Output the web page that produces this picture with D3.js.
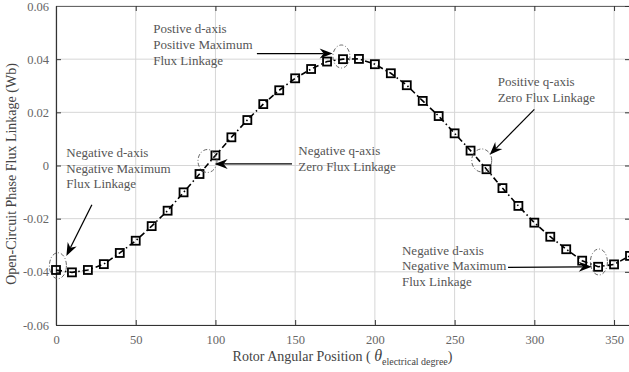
<!DOCTYPE html>
<html>
<head>
<meta charset="utf-8">
<script src="https://cdn.jsdelivr.net/npm/d3@7"></script>
<style>
  html, body { margin: 0; padding: 0; background: #fff; }
  svg { display: block; }
  text { font-family: "Liberation Serif", "Times New Roman", serif; }
</style>
</head>
<body>
<svg id="chart" width="629" height="372"></svg>
<script>
// Rotor angle (electrical degrees) and open-circuit phase flux linkage (Wb)
const angles = [0, 10, 20, 30, 40, 50, 60, 70, 80, 90, 100, 110, 120, 130, 140, 150, 160, 170, 180,
                190, 200, 210, 220, 230, 240, 250, 260, 270, 280, 290, 300, 310, 320, 330, 340, 350, 360];
const flux = [-0.0393, -0.0402, -0.0393, -0.0371, -0.0329, -0.0283, -0.0228, -0.0170, -0.0101, -0.0032,
              0.0038, 0.0106, 0.0171, 0.0231, 0.0283, 0.0328, 0.0363, 0.0391, 0.0400,
              0.0401, 0.0381, 0.0347, 0.0302, 0.0243, 0.0186, 0.0121, 0.0056, -0.0014, -0.0085,
              -0.0152, -0.0215, -0.0268, -0.0315, -0.0358, -0.0381, -0.0372, -0.0340];
const xTicks = [0, 50, 100, 150, 200, 250, 300, 350];
const yTicks = [-0.06, -0.04, -0.02, 0, 0.02, 0.04, 0.06];
const yTickLabels = ["-0.06", "-0.04", "-0.02", "0", "0.02", "0.04", "0.06"];

// Callouts: text lines, text anchor point (angle, flux), arrow from/to, circled point
const noteLines = [
  ["Negative d-axis", "Negative Maximum", "Flux Linkage"],
  ["Negative q-axis", "Zero Flux Linkage"],
  ["Postive d-axis", "Positive Maximum", "Flux Linkage"],
  ["Positive q-axis", "Zero Flux Linkage"],
  ["Negative d-axis", "Negative Maximum", "Flux Linkage"]
];
const noteAt = [[6.5, 0.0032], [152, 0.0039], [61, 0.0498], [277, 0.0299], [217, -0.0335]];
const arrowFrom = [[22.5, -0.0148], [148, 0.0006], [126, 0.0421], [300, 0.0211], [283.5, -0.0383]];
const arrowTo = [[6.5, -0.0340], [99.5, 0.0006], [173.5, 0.0421], [272, 0.0040], [336, -0.0381]];
const circleAt = [[1.2, -0.0377], [95, 0.0017], [179, 0.0410], [267, 0.0019], [340.5, -0.0363]];

const svg = d3.select("#chart");
const margin = { left: 56, right: -1, top: 6, bottom: 47 };
const W = 629, H = 372;
const x = d3.scaleLinear().domain([0, 360]).range([margin.left, W - margin.right]);
const y = d3.scaleLinear().domain([-0.06, 0.06]).range([H - margin.bottom, margin.top]);
const x0 = x.range()[0], x1 = x.range()[1], y0 = y.range()[0], y1 = y.range()[1];

// grid
const grid = svg.append("g").attr("stroke", "#d6d6d6").attr("stroke-width", 1);
xTicks.forEach(t => grid.append("line").attr("x1", x(t)).attr("x2", x(t)).attr("y1", y0).attr("y2", y1));
yTicks.forEach(t => grid.append("line").attr("x1", x0).attr("x2", x1).attr("y1", y(t)).attr("y2", y(t)));

// axes with inward ticks
const axisColor = "#333";
const xAxis = svg.append("g").attr("transform", `translate(0,${y0})`)
  .call(d3.axisBottom(x).tickValues(xTicks).tickSizeInner(-5).tickSizeOuter(0).tickPadding(10).tickFormat(d3.format("d")));
const yAxis = svg.append("g").attr("transform", `translate(${x0},0)`)
  .call(d3.axisLeft(y).tickValues(yTicks).tickSizeInner(-5).tickSizeOuter(0).tickPadding(7)
    .tickFormat((d, i) => yTickLabels[i]));
const xTop = svg.append("g").attr("transform", `translate(0,${y1})`)
  .call(d3.axisTop(x).tickValues(xTicks).tickSizeInner(-5).tickSizeOuter(0).tickFormat(""));
const yRight = svg.append("g").attr("transform", `translate(${x1},0)`)
  .call(d3.axisRight(y).tickValues(yTicks).tickSizeInner(-5).tickSizeOuter(0).tickFormat(""));
[xAxis, yAxis, xTop, yRight].forEach(g => {
  g.attr("font-family", null);
  g.select(".domain").attr("stroke", axisColor).attr("stroke-width", 1.2);
  g.selectAll(".tick line").attr("stroke", axisColor);
  g.selectAll(".tick text").attr("fill", "#666").style("font-size", "12.5px");
});
xTop.select(".domain").attr("stroke", "#666");

// curve: dash-dot line with square markers
const line = d3.line().x((d, i) => x(angles[i])).y(d => y(d));
svg.append("path").datum(flux).attr("d", line)
  .attr("fill", "none").attr("stroke", "#000").attr("stroke-width", 1.6)
  .attr("stroke-dasharray", "6,3,1.5,3");
svg.append("g").selectAll("rect").data(flux).join("rect")
  .attr("x", (d, i) => x(angles[i]) - 4).attr("y", d => y(d) - 4)
  .attr("width", 8).attr("height", 8)
  .attr("fill", "none").attr("stroke", "#000").attr("stroke-width", 1.8);

// dashed ellipses around key points
const ell = svg.append("g").attr("fill", "none").attr("stroke", "#555").attr("stroke-width", 0.9)
  .attr("stroke-dasharray", "4,2,1,2");
const rx = [8.5, 9.5, 8.5, 10, 8.5], ry = [13, 11.5, 11.5, 11.5, 13];
circleAt.forEach((c, i) => ell.append("ellipse")
  .attr("cx", x(c[0])).attr("cy", y(c[1])).attr("rx", rx[i]).attr("ry", ry[i]));

// arrows with filled heads
const arr = svg.append("g");
arrowFrom.forEach((f, i) => {
  const ax = x(f[0]), ay = y(f[1]), bx = x(arrowTo[i][0]), by = y(arrowTo[i][1]);
  const ang = Math.atan2(by - ay, bx - ax);
  const L = 13, Wd = 5, back = 9;
  const ux = Math.cos(ang), uy = Math.sin(ang), px = -uy, py = ux;
  arr.append("line").attr("x1", ax).attr("y1", ay).attr("x2", bx - ux * back).attr("y2", by - uy * back)
    .attr("stroke", "#000").attr("stroke-width", 1.2);
  const pts = [[bx, by], [bx - ux * L + px * Wd, by - uy * L + py * Wd],
               [bx - ux * back, by - uy * back], [bx - ux * L - px * Wd, by - uy * L - py * Wd]];
  arr.append("path").attr("d", "M" + pts.map(p => p.join(",")).join("L") + "Z").attr("fill", "#000");
});

// callout text
noteLines.forEach((lines, i) => {
  const t = svg.append("text").attr("x", x(noteAt[i][0])).attr("y", y(noteAt[i][1]))
    .attr("fill", "#555").style("font-size", "13px");
  lines.forEach((s, j) => t.append("tspan").attr("x", x(noteAt[i][0])).attr("dy", j === 0 ? 0 : 15.7).text(s));
});

// axis titles
svg.append("text").attr("transform", `translate(16,174) rotate(-90)`)
  .attr("text-anchor", "middle").attr("fill", "#444").style("font-size", "14px")
  .text("Open-Circuit Phase Flux Linkage (Wb)");
const xt = svg.append("text").attr("x", (x0 + 629) / 2).attr("y", 361)
  .attr("text-anchor", "middle").attr("fill", "#444").style("font-size", "14px");
xt.append("tspan").text("Rotor Angular Position ( ");
xt.append("tspan").style("font-style", "italic").style("font-size", "16px").text("θ");
xt.append("tspan").attr("dy", 4).style("font-size", "10px").text("electrical degree");
xt.append("tspan").attr("dy", -4).text(")");
</script>
</body>
</html>
